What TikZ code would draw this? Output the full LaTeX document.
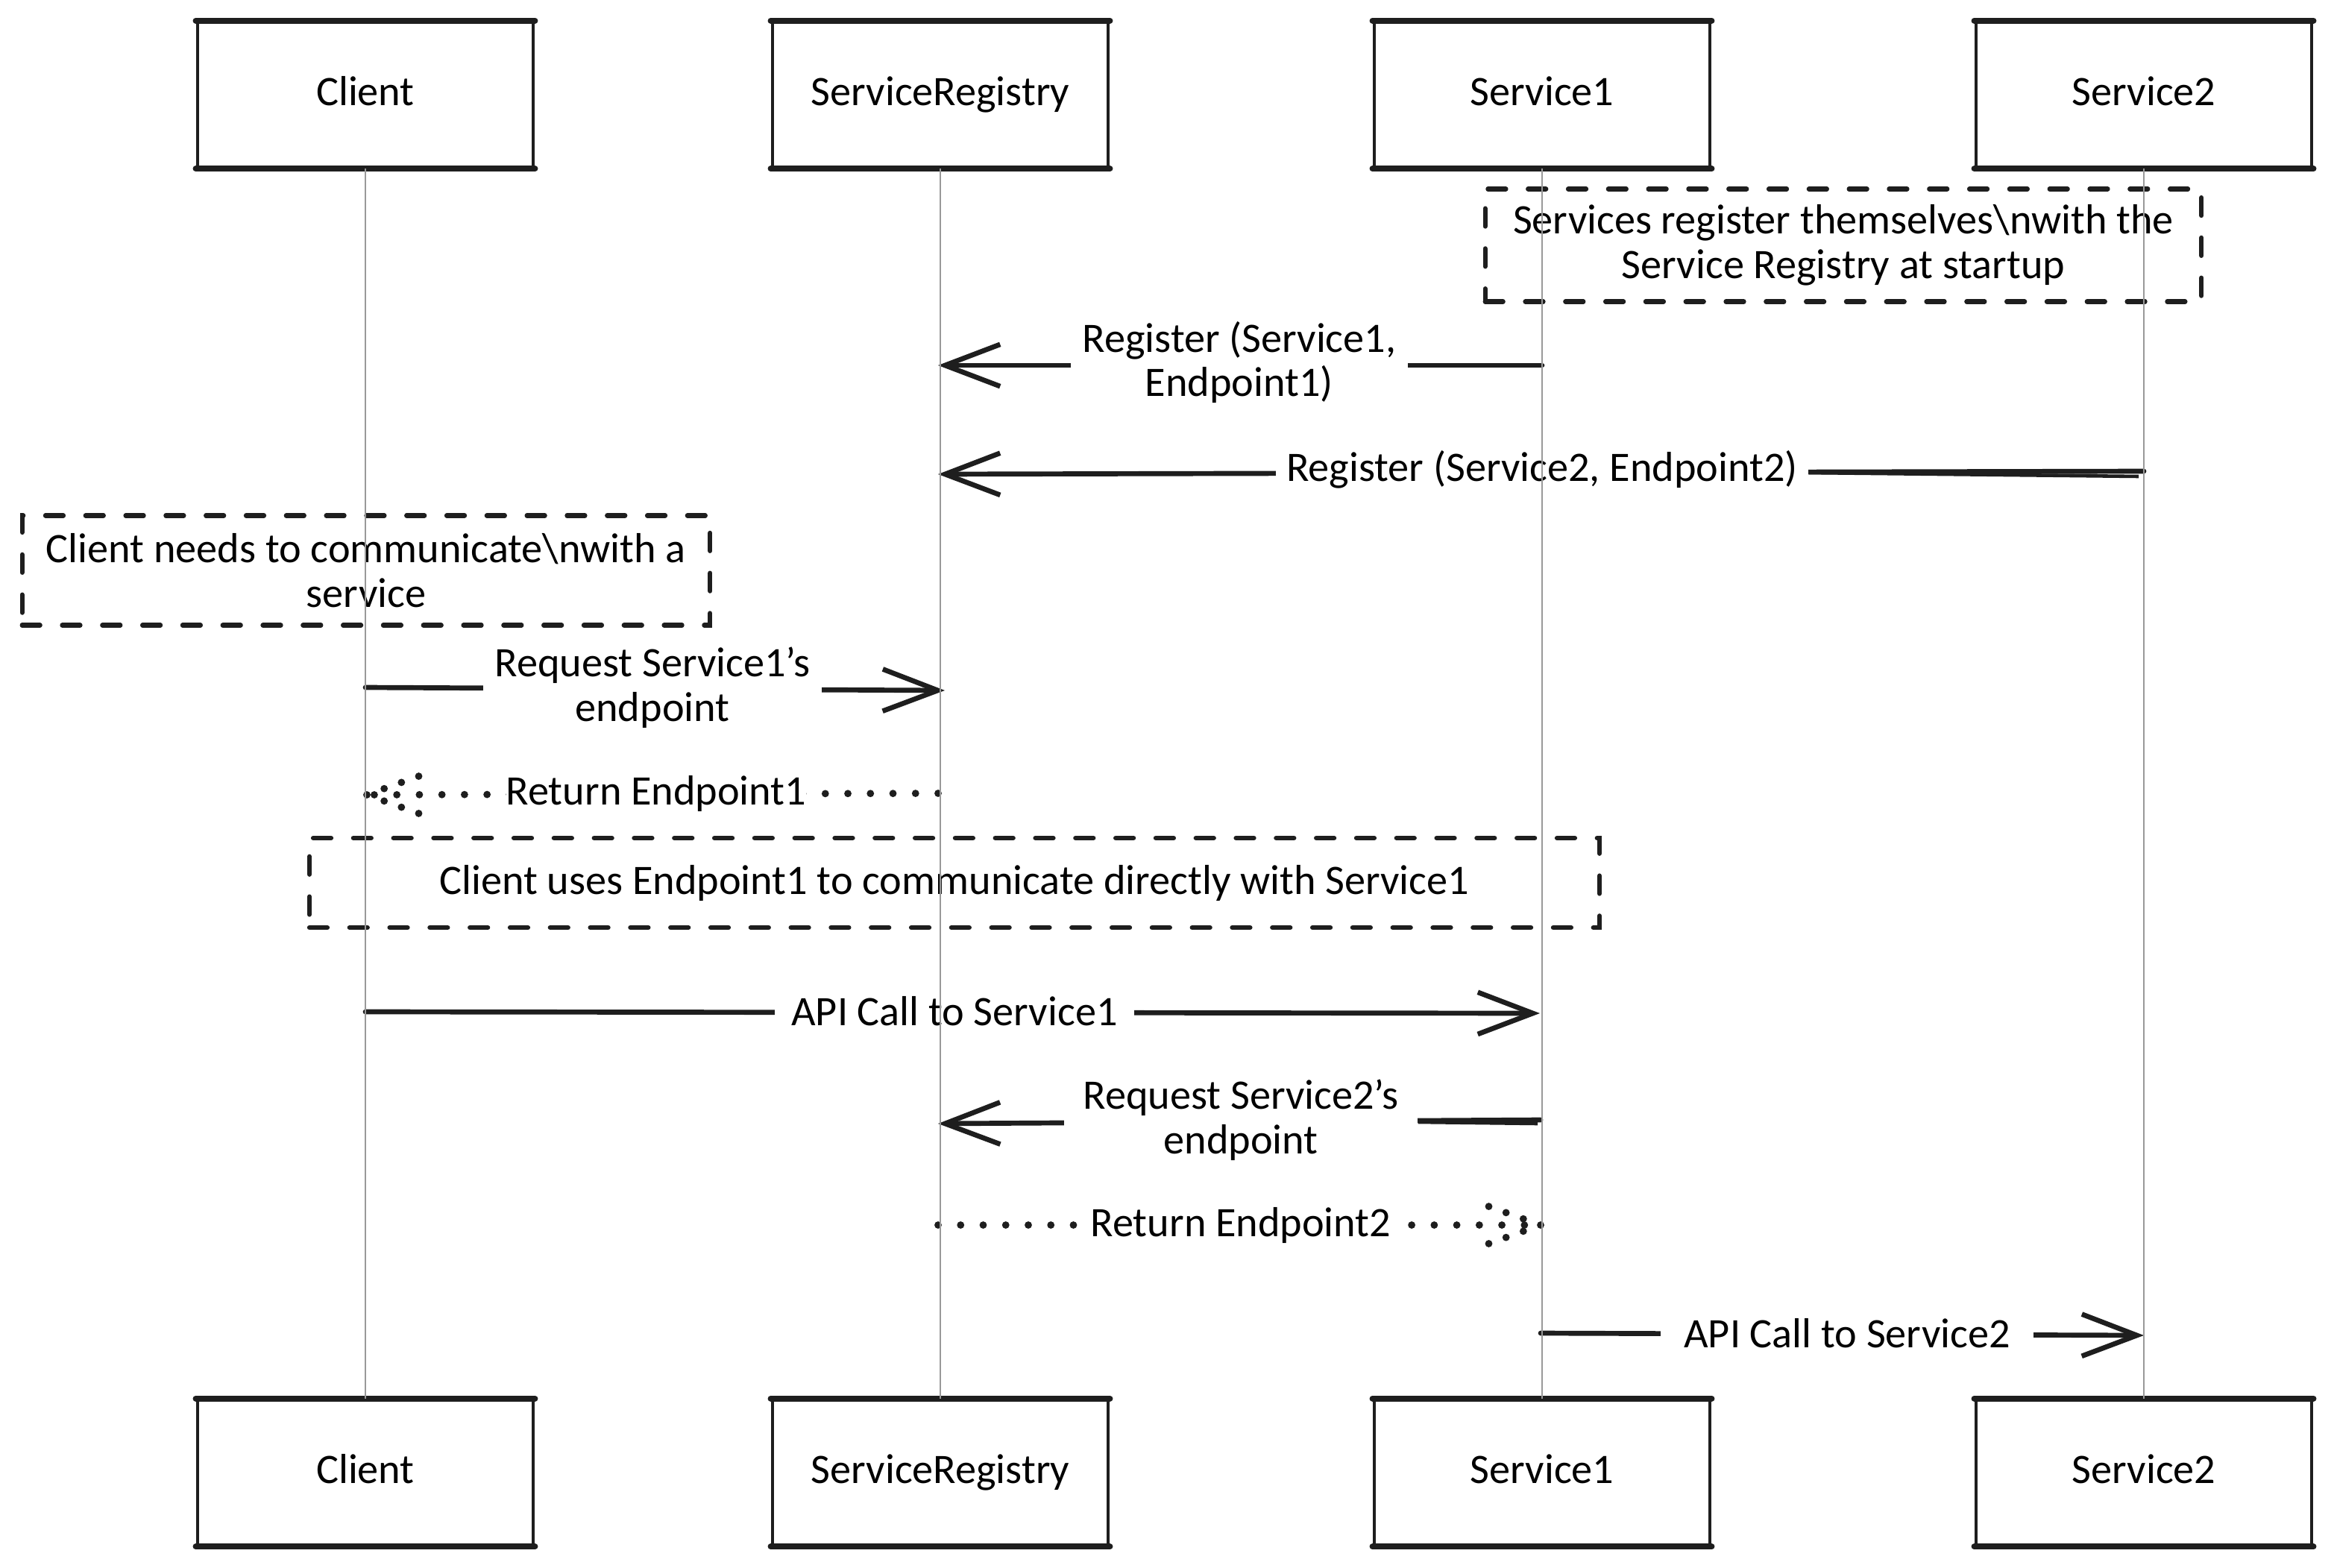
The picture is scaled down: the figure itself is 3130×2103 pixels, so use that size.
\documentclass[tikz,border=0pt]{standalone}
\usepackage{fontspec}
\setmainfont{Carlito}
\usetikzlibrary{arrows.meta}

\definecolor{ink}{HTML}{1E1E1E}
\tikzset{
    actor/.style={draw=ink, fill=white, line width=1.3pt, minimum width=4.5cm, minimum height=1.94cm, text height=11pt, text depth=3pt, font=\fontsize{16}{18}\selectfont},
    edge/.style={draw=ink, line width=2.3pt, line cap=round},
    lifeline/.style={draw=black!40, line width=0.6pt},
    note/.style={draw=ink, line width=1.8pt, line cap=round, dash pattern=on 6.8pt off 8.5pt, font=\fontsize{16}{17}\selectfont, align=center, inner sep=0pt},
    msg/.style={draw=ink, line width=1.9pt, line cap=round, line join=round, -{Straight Barb[length=21pt, width=16pt, line width=1.9pt]}},
    stroke/.style={draw=ink, line width=1.3pt},
    ret/.style={draw=ink, line width=2.8pt, line cap=round, dash pattern=on 0pt off 8.6pt},
    rethead/.style={ret, dash pattern=on 0pt off 7pt},
    msglabel/.style={fill=white, inner sep=0pt, inner ysep=1pt, font=\fontsize{16}{17}\selectfont, align=center, text=black}
}

\begin{document}
\begin{tikzpicture}[x=0.01cm, y=-0.01cm]
    \useasboundingbox (0,0) rectangle (3130,2103);

    % the actors, top and bottom
    \foreach \name/\title/\x in {client/Client/490, registry/ServiceRegistry/1261, serviceone/Service1/2068, servicetwo/Service2/2875} {
        \node[actor] (\name top) at (\x,127) {\title};
        \node[actor] (\name bot) at (\x,1975) {\title};
        \draw[edge] (\name top.north west) -- (\name top.north east) (\name top.south west) -- (\name top.south east);
        \draw[edge] (\name bot.north west) -- (\name bot.north east) (\name bot.south west) -- (\name bot.south east);
    }

    % notes
    \node[note, minimum width=9.6cm, minimum height=1.51cm] (startupnote) at (2472,329) {Services register themselves\textbackslash nwith the\\ Service Registry at startup};
    \node[note, minimum width=9.22cm, minimum height=1.47cm] (clientnote) at (491,765) {Client needs to communicate\textbackslash nwith a\\ service};
    \node[note, minimum width=17.29cm, minimum height=1.2cm] (directnote) at (1280,1184) {Client uses Endpoint1 to communicate directly with Service1};

    % register service 1
    \coordinate (regonefrom) at (2068,490);
    \coordinate (regoneto) at (1258,490);
    \draw[msg] (regonefrom) -- (regoneto);
    \node[msglabel, minimum width=4.52cm] (regonelabel) at (1662,486) {Register (Service1,\\ Endpoint1)};

    % register service 2
    \coordinate (regtwofrom) at (2875,632);
    \coordinate (regtwoto) at (1258,636);
    \coordinate (regtwoback) at (2868,639);
    \draw[msg] (regtwofrom) -- (regtwoto);
    \node[msglabel, minimum width=7.14cm] (regtwolabel) at (2068,630) {Register (Service2, Endpoint2)};
    \draw[stroke] (regtwoback) -- (regtwolabel);

    % request service 1
    \coordinate (askonefrom) at (490,922);
    \coordinate (askoneto) at (1267,926);
    \draw[msg] (askonefrom) -- (askoneto);
    \node[msglabel, minimum width=4.53cm] (askonelabel) at (875,922) {Request Service1's\\ endpoint};

    % return endpoint 1
    \coordinate (backonefrom) at (1258,1064);
    \coordinate (backoneto) at (492,1066);
    \draw[ret] (backonefrom) -- (backoneto);
    \draw[rethead] (backoneto) -- ++(78,-28) (backoneto) -- ++(78,28);
    \node[msglabel, minimum width=3.98cm] (backonelabel) at (880,1064) {Return Endpoint1};

    % call service 1
    \coordinate (callonefrom) at (490,1357);
    \coordinate (calloneto) at (2065,1359);
    \draw[msg] (callonefrom) -- (calloneto);
    \node[msglabel, minimum width=4.82cm] (callonelabel) at (1280,1356) {API Call to Service1};

    % request service 2
    \coordinate (asktwofrom) at (2066,1502);
    \coordinate (asktwoto) at (1258,1507);
    \coordinate (asktwoback) at (2062,1507);
    \draw[msg] (asktwofrom) -- (asktwoto);
    \node[msglabel, minimum width=4.74cm] (asktwolabel) at (1664,1502) {Request Service2's\\ endpoint};
    \draw[stroke] (asktwoback) -- (asktwolabel);

    % return endpoint 2
    \coordinate (backtwofrom) at (1258,1643);
    \coordinate (backtwoto) at (2066,1643);
    \draw[ret] (backtwofrom) -- (backtwoto);
    \draw[rethead] (backtwoto) -- ++(-78,-28) (backtwoto) -- ++(-78,28);
    \node[msglabel, minimum width=4.1cm] (backtwolabel) at (1664,1643) {Return Endpoint2};

    % call service 2
    \coordinate (calltwofrom) at (2066,1788);
    \coordinate (calltwoto) at (2875,1791);
    \draw[msg] (calltwofrom) -- (calltwoto);
    \node[msglabel, minimum width=5cm] (calltwolabel) at (2477,1788) {API Call to Service2};

    % the lifelines run over everything else
    \foreach \name in {client, registry, serviceone, servicetwo} {
        \draw[lifeline] (\name top) -- (\name bot);
    }
\end{tikzpicture}
\end{document}
